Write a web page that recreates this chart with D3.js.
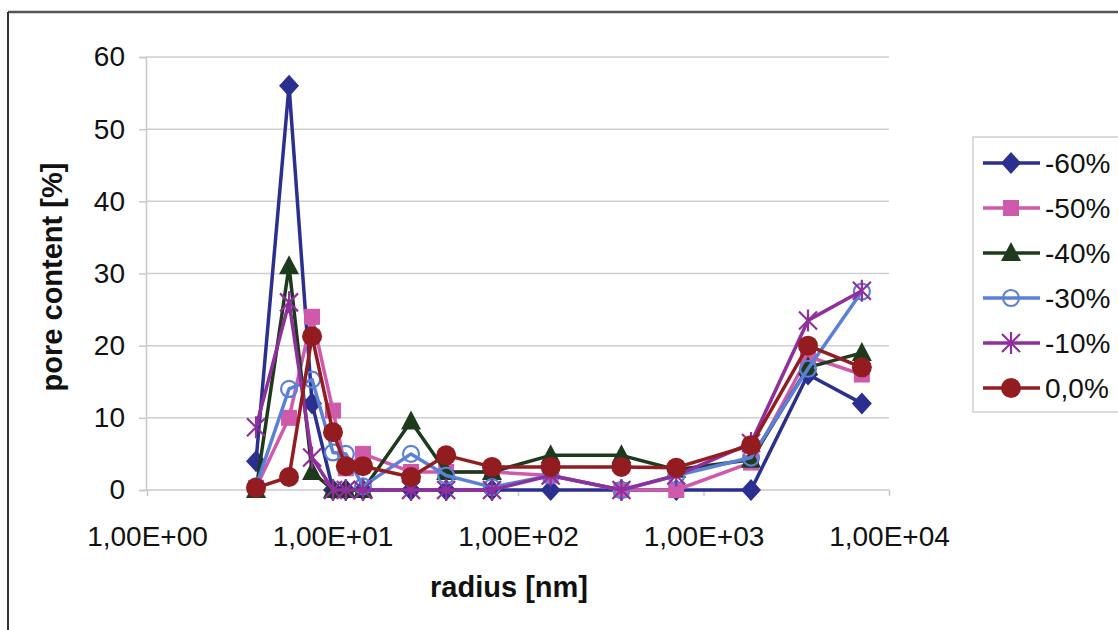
<!DOCTYPE html>
<html lang="en">
<head>
<meta charset="UTF-8">
<script src="https://d3js.org/d3.v7.min.js"></script>
<style>
  body { margin: 0; background: #fff; }
  svg text { font-family: "Liberation Sans", Arial, sans-serif; fill: #111; }
</style>
</head>
<body>
<svg id="chart" width="1118" height="630"></svg>
<script>
// radius classes [nm]
const radius = [3.87, 5.83, 7.76, 10.06, 11.8, 14.6, 26.5, 41, 72.4, 150, 361, 713, 1804, 3659, 7140];

const seriesNames = ["-60%", "-50%", "-40%", "-30%", "-10%", "0,0%"];
const v60 = [4, 56, 12, 0, 0, 0, 0, 0, 0, 0, 0, 0, 0, 16, 12];
const v50 = [0.3, 10, 24, 11, 3, 5, 2.5, 2.5, 2.5, 2, 0, 0, 3.8, 18.5, 16];
const v40 = [0, 31, 2.5, 0, 0, 0, 9.5, 2.5, 2.5, 4.8, 4.8, 2.8, 4.2, 17, 19];
const v30 = [0.5, 14, 15.3, 5.2, 5, 0.5, 5, 2, 0.4, 2, 0, 2, 4.5, 16.8, 27.5];
const v10 = [8.7, 26, 4.5, 0, 0, 0, 0, 0, 0, 2, 0, 2, 6.5, 23.5, 27.6];
const v00 = [0.3, 1.8, 21.3, 8, 3.3, 3.3, 1.8, 4.8, 3.2, 3.2, 3.2, 3.1, 6.2, 20, 17];

const xTicks = [1, 10, 100, 1000, 10000];
const xTickLabels = ["1,00E+00", "1,00E+01", "1,00E+02", "1,00E+03", "1,00E+04"];
const yTicks = [0, 10, 20, 30, 40, 50, 60];

const colors = ["#2b2f8f", "#cf5aac", "#1d3b1c", "#5b80d8", "#8f2f9c", "#931c20"];
const markers = ["diamond", "square", "triangle", "ocircle", "star", "circle"];

const svg = d3.select("#chart");

// frame
svg.append("line").attr("x1", 8).attr("x2", 1118).attr("y1", 12).attr("y2", 12)
  .attr("stroke", "#555").attr("stroke-width", 2.5);
svg.append("line").attr("x1", 8).attr("x2", 8).attr("y1", 12).attr("y2", 630)
  .attr("stroke", "#333").attr("stroke-width", 2);

const x = d3.scaleLog().domain([1, 10000]).range([147, 889]);
const y = d3.scaleLinear().domain([0, 60]).range([490, 57]);

// gridlines
svg.append("g").selectAll("line").data(yTicks.filter(d => d > 0)).join("line")
  .attr("x1", 146).attr("x2", 889)
  .attr("y1", d => y(d)).attr("y2", d => y(d))
  .attr("stroke", "#cfcfcf").attr("stroke-width", 1.5);

// y axis
const yAxis = svg.append("g").attr("transform", "translate(146,0)")
  .call(d3.axisLeft(y).tickValues(yTicks).tickSize(7).tickPadding(14));
yAxis.select(".domain").attr("stroke", "#c8c8c8").attr("stroke-width", 1.5);
yAxis.selectAll(".tick line").attr("stroke", "#c8c8c8").attr("stroke-width", 1.5);
yAxis.selectAll("text").attr("font-size", 28).style("font-family", "Liberation Sans, Arial, sans-serif").attr("fill", "#111");

// x axis
const xAxis = svg.append("g").attr("transform", "translate(0,490)")
  .call(d3.axisBottom(x).tickValues(xTicks).tickFormat((d, i) => xTickLabels[i]).tickSize(6).tickPadding(30));
xAxis.select(".domain").attr("stroke", "#c8c8c8").attr("stroke-width", 1.5).attr("d", "M146,0H889");
xAxis.selectAll(".tick line").attr("stroke", "#c8c8c8").attr("stroke-width", 1.5);
xAxis.selectAll("text").attr("font-size", 28).style("font-family", "Liberation Sans, Arial, sans-serif").attr("fill", "#111");

// axis titles
svg.append("text").attr("x", 509).attr("y", 597).attr("text-anchor", "middle")
  .attr("font-size", 29).attr("font-weight", "bold").text("radius [nm]");
svg.append("text").attr("transform", "translate(62,277) rotate(-90)").attr("text-anchor", "middle")
  .attr("font-size", 29).attr("font-weight", "bold").text("pore content [%]");

function drawMarker(g, type, color) {
  if (type === "diamond") {
    g.append("path").attr("d", "M0,-11L10,0L0,11L-10,0Z").attr("fill", color);
  } else if (type === "square") {
    g.append("rect").attr("x", -8).attr("y", -8).attr("width", 16).attr("height", 16).attr("fill", color);
  } else if (type === "triangle") {
    g.append("path").attr("d", "M0,-11L10,8L-10,8Z").attr("fill", color);
  } else if (type === "ocircle") {
    g.append("circle").attr("r", 8).attr("fill", "none").attr("stroke", color).attr("stroke-width", 2.2);
  } else if (type === "star") {
    g.append("path").attr("d", "M-9,-9L9,9M-9,9L9,-9M0,-11V11")
      .attr("stroke", color).attr("stroke-width", 2.2).attr("fill", "none");
  } else {
    g.append("circle").attr("r", 10).attr("fill", color);
  }
}

const allSeries = [v60, v50, v40, v30, v10, v00];
const line = d3.line().x(d => x(d[0])).y(d => y(d[1]));

allSeries.forEach((vals, si) => {
  const pts = radius.map((r, i) => [r, vals[i]]);
  const g = svg.append("g");
  g.append("path").datum(pts).attr("d", line)
    .attr("fill", "none").attr("stroke", colors[si]).attr("stroke-width", 3.5)
    .attr("stroke-linejoin", "round");
  pts.forEach(p => {
    const m = g.append("g").attr("transform", `translate(${x(p[0])},${y(p[1])})`);
    drawMarker(m, markers[si], colors[si]);
  });
});

// legend
const legend = svg.append("g");
legend.append("rect").attr("x", 973).attr("y", 137).attr("width", 160).attr("height", 275)
  .attr("fill", "#fff").attr("stroke", "#cfcfcf").attr("stroke-width", 1.5);
seriesNames.forEach((name, i) => {
  const ly = 163 + i * 45;
  legend.append("line").attr("x1", 983).attr("x2", 1040).attr("y1", ly).attr("y2", ly)
    .attr("stroke", colors[i]).attr("stroke-width", 3.5);
  const m = legend.append("g").attr("transform", `translate(1011,${ly})`);
  drawMarker(m, markers[i], colors[i]);
  legend.append("text").attr("x", 1045).attr("y", ly + 10).attr("font-size", 28).text(name);
});
</script>
</body>
</html>
